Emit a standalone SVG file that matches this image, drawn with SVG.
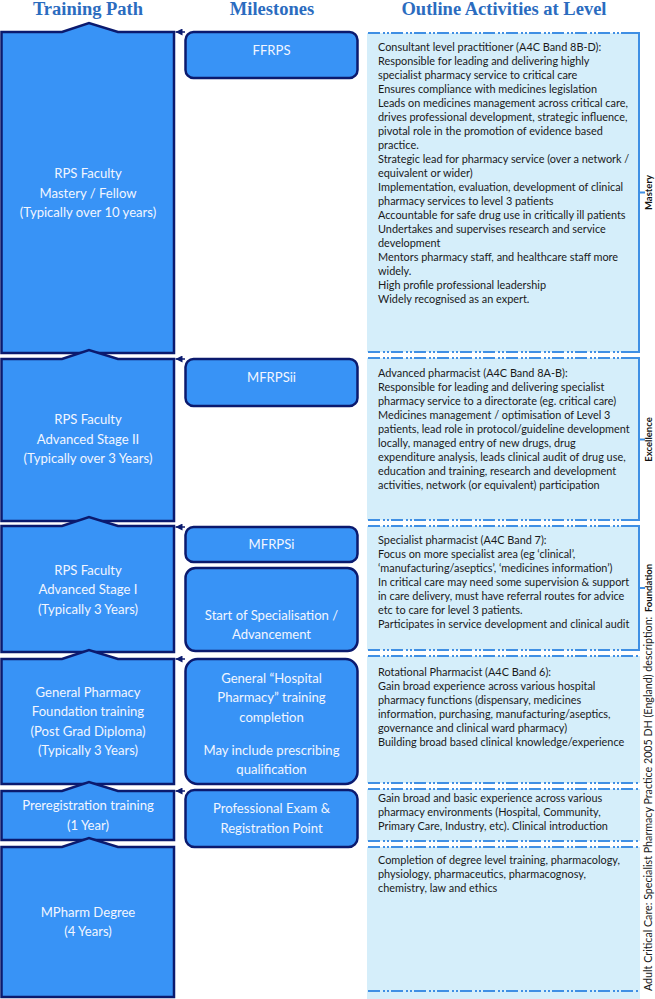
<svg xmlns="http://www.w3.org/2000/svg" width="655" height="999" viewBox="0 0 655 999">
<defs>
<style>
.hdr{font-family:"Liberation Serif",serif;font-weight:bold;font-size:18.5px;fill:#2b6cbf;text-anchor:middle}
.lbox{fill:#3893f6;stroke:#0b1a6e;stroke-width:2.5;stroke-linejoin:miter}
.mbox{fill:#3893f6;stroke:#0b1a6e;stroke-width:2.5}
.lt{font-family:Lato,"Liberation Sans",sans-serif;font-size:13.1px;fill:#f2f6ff;text-anchor:middle}
.rt{font-family:Lato,"Liberation Sans",sans-serif;font-size:10.9px;fill:#1a1a1a}
.pan{fill:#d5eefa}
.dash{stroke:#3f8fe4;stroke-width:2.2;stroke-dasharray:12 3 2 2 2 2;fill:none}
.brk{stroke:#3f8fe4;stroke-width:2;fill:none}
.lbl{font-family:Lato,"Liberation Sans",sans-serif;font-weight:bold;font-size:9.5px;fill:#111;text-anchor:middle}
.vt{font-family:Lato,"Liberation Sans",sans-serif;font-size:10.7px;fill:#1a1a1a}
.conn{stroke:#0b1a6e;stroke-width:1.5;fill:none}
</style>
<marker id="ah" viewBox="0 0 8 8" refX="8" refY="4" markerWidth="7" markerHeight="7" markerUnits="userSpaceOnUse" orient="auto">
<path d="M0,0 L8,4 L0,8 z" fill="#0b1a6e"/>
</marker>
</defs>
<rect width="655" height="999" fill="#ffffff"/>

<g id="headers">
<text class="hdr" x="88" y="15">Training Path</text>
<text class="hdr" x="272" y="15">Milestones</text>
<text class="hdr" x="504" y="15">Outline Activities at Level</text>
</g>

<!-- Right column panels -->
<g id="panel-mastery">
<rect class="pan" x="367" y="33" width="273" height="319"/>
<line class="dash" x1="368" y1="33" x2="632" y2="33"/>
<line class="dash" x1="368" y1="352" x2="632" y2="352"/>
<path class="brk" d="M630,33 H639 V352 H630 M639,192.5 H645"/>
<text class="lbl" transform="translate(652,192.5) rotate(-90)">Mastery</text>
<text class="rt">
<tspan x="378" y="51">Consultant level practitioner (A4C Band 8B-D):</tspan>
<tspan x="378" y="65">Responsible for leading and delivering highly</tspan>
<tspan x="378" y="79">specialist pharmacy service to critical care</tspan>
<tspan x="378" y="93">Ensures compliance with medicines legislation</tspan>
<tspan x="378" y="107">Leads on medicines management across critical care,</tspan>
<tspan x="378" y="121">drives professional development, strategic influence,</tspan>
<tspan x="378" y="135">pivotal role in the promotion of evidence based</tspan>
<tspan x="378" y="149">practice.</tspan>
<tspan x="378" y="163">Strategic lead for pharmacy service (over a network /</tspan>
<tspan x="378" y="177">equivalent or wider)</tspan>
<tspan x="378" y="191">Implementation, evaluation, development of clinical</tspan>
<tspan x="378" y="205">pharmacy services to level 3 patients</tspan>
<tspan x="378" y="219">Accountable for safe drug use in critically ill patients</tspan>
<tspan x="378" y="233">Undertakes and supervises research and service</tspan>
<tspan x="378" y="247">development</tspan>
<tspan x="378" y="261">Mentors pharmacy staff, and healthcare staff more</tspan>
<tspan x="378" y="275">widely.</tspan>
<tspan x="378" y="289">High profile professional leadership</tspan>
<tspan x="378" y="303">Widely recognised as an expert.</tspan>
</text>
</g>

<g id="panel-excellence">
<rect class="pan" x="367" y="358" width="273" height="162"/>
<line class="dash" x1="368" y1="358" x2="632" y2="358"/>
<line class="dash" x1="368" y1="520" x2="632" y2="520"/>
<path class="brk" d="M630,358 H639 V520 H630 M639,439.5 H645"/>
<text class="lbl" transform="translate(652,439.5) rotate(-90)">Excellence</text>
<text class="rt">
<tspan x="378" y="377">Advanced pharmacist (A4C Band 8A-B):</tspan>
<tspan x="378" y="391">Responsible for leading and delivering specialist</tspan>
<tspan x="378" y="405">pharmacy service to a directorate (eg. critical care)</tspan>
<tspan x="378" y="419">Medicines management / optimisation of Level 3</tspan>
<tspan x="378" y="433">patients, lead role in protocol/guideline development</tspan>
<tspan x="378" y="447">locally, managed entry of new drugs, drug</tspan>
<tspan x="378" y="461">expenditure analysis, leads clinical audit of drug use,</tspan>
<tspan x="378" y="475">education and training, research and development</tspan>
<tspan x="378" y="489">activities, network (or equivalent) participation</tspan>
</text>
</g>

<g id="panel-foundation">
<rect class="pan" x="367" y="526" width="273" height="124"/>
<line class="dash" x1="368" y1="526" x2="632" y2="526"/>
<line class="dash" x1="368" y1="650" x2="632" y2="650"/>
<path class="brk" d="M630,526 H639 V650 H630 M639,588 H645"/>
<text class="lbl" transform="translate(652,588) rotate(-90)">Foundation</text>
<text class="rt">
<tspan x="378" y="544">Specialist pharmacist (A4C Band 7):</tspan>
<tspan x="378" y="558">Focus on more specialist area (eg ‘clinical’,</tspan>
<tspan x="378" y="572">‘manufacturing/aseptics’, ‘medicines information’)</tspan>
<tspan x="378" y="586">In critical care may need some supervision &amp; support</tspan>
<tspan x="378" y="600">in care delivery, must have referral routes for advice</tspan>
<tspan x="378" y="614">etc to care for level 3 patients.</tspan>
<tspan x="378" y="628">Participates in service development and clinical audit</tspan>
</text>
</g>

<g id="panel-rotational">
<rect class="pan" x="367" y="656" width="273" height="127"/>
<line class="dash" x1="368" y1="656" x2="640" y2="656"/>
<line class="dash" x1="368" y1="783" x2="640" y2="783"/>
<text class="rt">
<tspan x="378" y="676">Rotational Pharmacist (A4C Band 6):</tspan>
<tspan x="378" y="690">Gain broad experience across various hospital</tspan>
<tspan x="378" y="704">pharmacy functions (dispensary, medicines</tspan>
<tspan x="378" y="718">information, purchasing, manufacturing/aseptics,</tspan>
<tspan x="378" y="732">governance and clinical ward pharmacy)</tspan>
<tspan x="378" y="746">Building broad based clinical knowledge/experience</tspan>
</text>
</g>

<g id="panel-prereg">
<rect class="pan" x="367" y="789" width="273" height="52"/>
<line class="dash" x1="368" y1="789" x2="640" y2="789"/>
<line class="dash" x1="368" y1="841" x2="640" y2="841"/>
<text class="rt">
<tspan x="378" y="802">Gain broad and basic experience across various</tspan>
<tspan x="378" y="816">pharmacy environments (Hospital, Community,</tspan>
<tspan x="378" y="830">Primary Care, Industry, etc). Clinical introduction</tspan>
</text>
</g>

<g id="panel-degree">
<rect class="pan" x="367" y="847" width="273" height="152"/>
<line class="dash" x1="368" y1="847" x2="640" y2="847"/>
<line class="dash" x1="368" y1="991" x2="640" y2="991"/>
<text class="rt">
<tspan x="378" y="864">Completion of degree level training, pharmacology,</tspan>
<tspan x="378" y="878">physiology, pharmaceutics, pharmacognosy,</tspan>
<tspan x="378" y="892">chemistry, law and ethics</tspan>
</text>
</g>

<text id="side-caption" class="vt" transform="translate(652,991) rotate(-90)">Adult Critical Care: Specialist Pharmacy Practice 2005 DH (England) description:</text>

<!-- Left column: training path -->
<g id="tp-mastery">
<polygon class="lbox" points="1.5,32 62,32 89,23 118,32 174,32 174,353 1.5,353"/>
<text class="lt"><tspan x="88" y="178">RPS Faculty</tspan><tspan x="88" y="197.5">Mastery / Fellow</tspan><tspan x="88" y="217">(Typically over 10 years)</tspan></text>
</g>
<g id="tp-stage2">
<polygon class="lbox" points="1.5,359 62,359 89,350 118,359 174,359 174,521 1.5,521"/>
<text class="lt"><tspan x="88" y="424">RPS Faculty</tspan><tspan x="88" y="444">Advanced Stage II</tspan><tspan x="88" y="463">(Typically over 3 Years)</tspan></text>
</g>
<g id="tp-stage1">
<polygon class="lbox" points="1.5,526 62,526 89,517 118,526 174,526 174,652 1.5,652"/>
<text class="lt"><tspan x="88" y="574.5">RPS Faculty</tspan><tspan x="88" y="594">Advanced Stage I</tspan><tspan x="88" y="613.5">(Typically 3 Years)</tspan></text>
</g>
<g id="tp-foundation">
<polygon class="lbox" points="1.5,659 62,659 89,650 118,659 174,659 174,784 1.5,784"/>
<text class="lt"><tspan x="88" y="697">General Pharmacy</tspan><tspan x="88" y="716">Foundation training</tspan><tspan x="88" y="736">(Post Grad Diploma)</tspan><tspan x="88" y="755">(Typically 3 Years)</tspan></text>
</g>
<g id="tp-prereg">
<polygon class="lbox" points="1.5,791 62,791 89,782 118,791 174,791 174,840 1.5,840"/>
<text class="lt"><tspan x="88" y="810">Preregistration training</tspan><tspan x="88" y="830">(1 Year)</tspan></text>
</g>
<g id="tp-mpharm">
<polygon class="lbox" points="1.5,847 62,847 89,838 118,847 174,847 174,997 1.5,997"/>
<text class="lt"><tspan x="88" y="917">MPharm Degree</tspan><tspan x="88" y="936">(4 Years)</tspan></text>
</g>

<!-- Milestones -->
<g id="ms-ffrps">
<rect class="mbox" x="185.5" y="32" width="172" height="46" rx="8"/>
<text class="lt"><tspan x="271.5" y="54.5">FFRPS</tspan></text>
</g>
<g id="ms-mfrpsii">
<rect class="mbox" x="185.5" y="359" width="172" height="47" rx="8"/>
<text class="lt"><tspan x="271.5" y="382">MFRPSii</tspan></text>
</g>
<g id="ms-mfrpsi">
<rect class="mbox" x="185.5" y="527" width="172" height="35" rx="8"/>
<text class="lt"><tspan x="271.5" y="549">MFRPSi</tspan></text>
</g>
<g id="ms-specialisation">
<rect class="mbox" x="185.5" y="568" width="172" height="83" rx="10"/>
<text class="lt"><tspan x="271.5" y="620">Start of Specialisation /</tspan><tspan x="271.5" y="639">Advancement</tspan></text>
</g>
<g id="ms-hospital">
<rect class="mbox" x="185.5" y="659" width="172" height="125" rx="12"/>
<text class="lt"><tspan x="271.5" y="683">General “Hospital</tspan><tspan x="271.5" y="702">Pharmacy” training</tspan><tspan x="271.5" y="722">completion</tspan><tspan x="271.5" y="755">May include prescribing</tspan><tspan x="271.5" y="774">qualification</tspan></text>
</g>
<g id="ms-registration">
<rect class="mbox" x="185.5" y="790" width="172" height="57" rx="9"/>
<text class="lt"><tspan x="271.5" y="813">Professional Exam &amp;</tspan><tspan x="271.5" y="833">Registration Point</tspan></text>
</g>

<g id="connectors">
<line class="conn" x1="185" y1="32" x2="175.5" y2="32" marker-end="url(#ah)"/>
<line class="conn" x1="185" y1="359" x2="175.5" y2="359" marker-end="url(#ah)"/>
<line class="conn" x1="185" y1="527" x2="175.5" y2="527" marker-end="url(#ah)"/>
<line class="conn" x1="185" y1="659" x2="175.5" y2="659" marker-end="url(#ah)"/>
<line class="conn" x1="185" y1="791" x2="175.5" y2="791" marker-end="url(#ah)"/>
</g>
</svg>
